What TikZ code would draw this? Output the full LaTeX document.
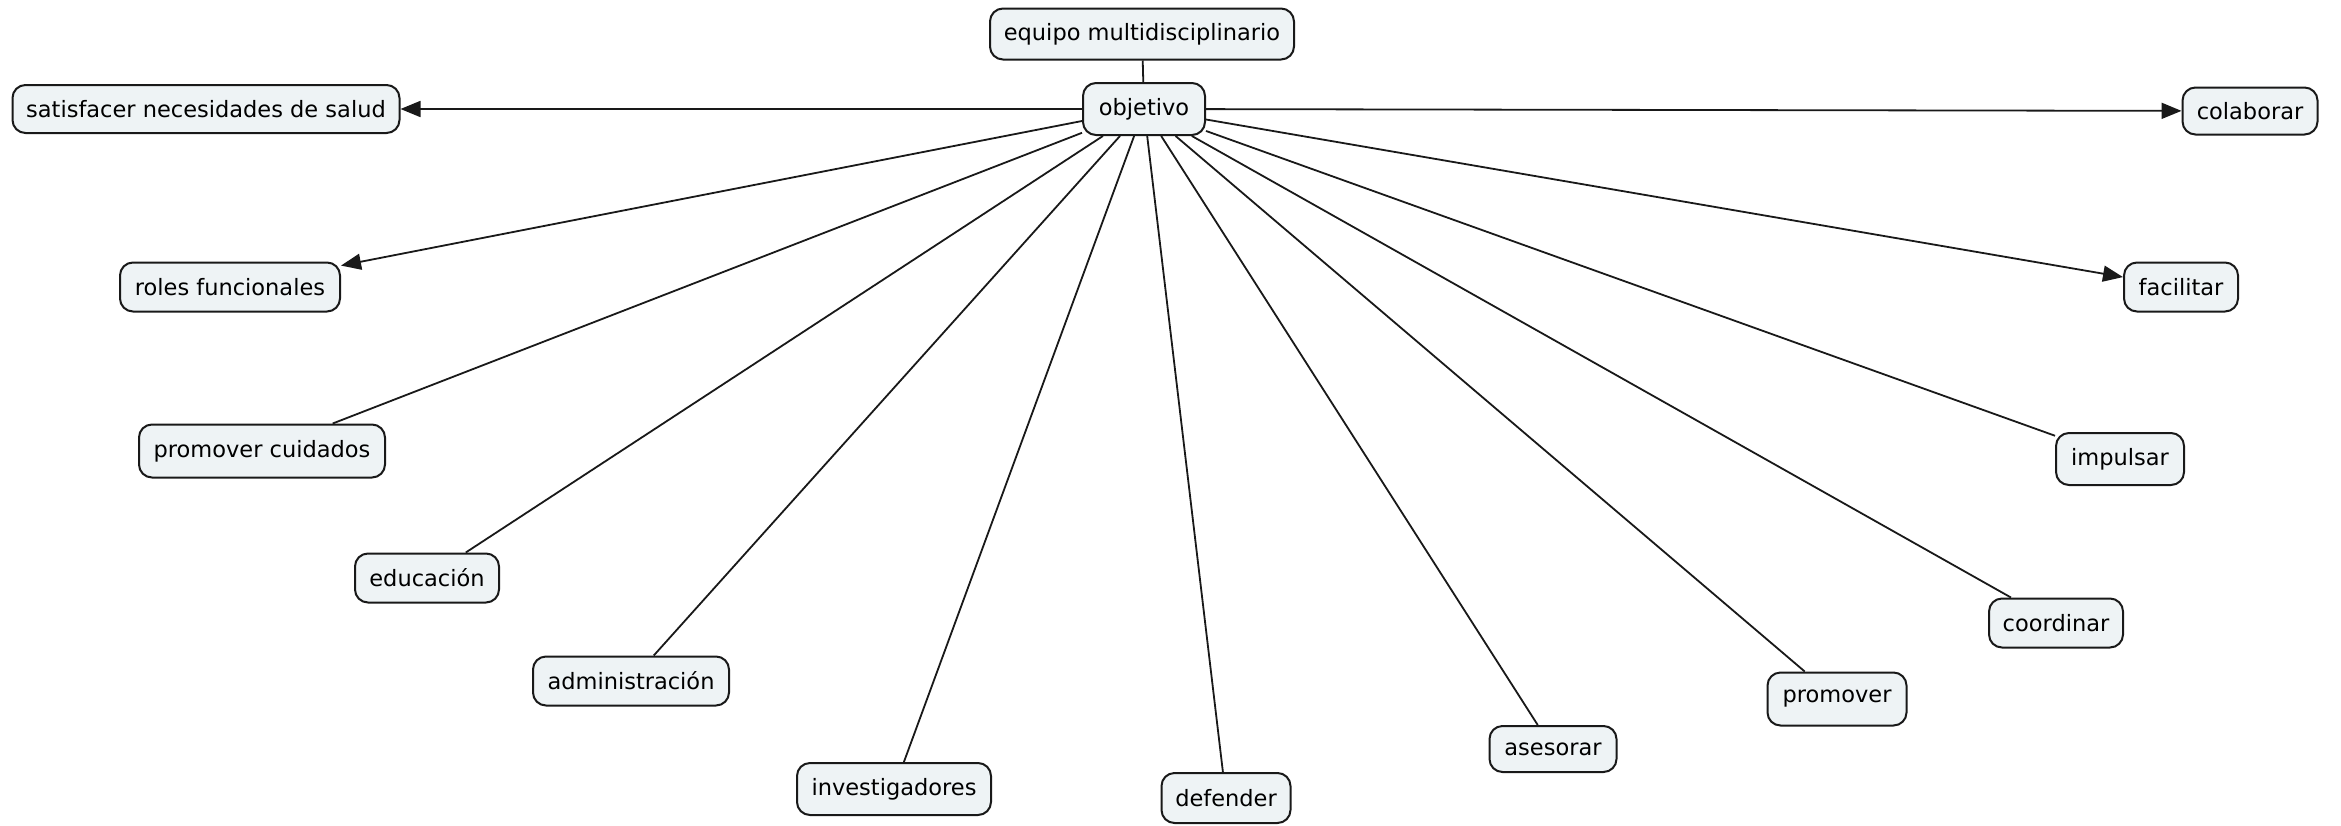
\documentclass[tikz,border=0pt]{standalone}
\usepackage{fontspec}
\setmainfont{DejaVu Sans}
\usetikzlibrary{arrows.meta}
\definecolor{boxfill}{HTML}{EEF3F5}
\begin{document}
\begin{tikzpicture}[x=1pt,y=-1pt,
  box/.style={draw=black!90, line width=2pt, fill=boxfill, rounded corners=13pt,
    minimum height=50pt, inner sep=0pt, font=\fontsize{22.5}{27}\selectfont},
  link/.style={line width=1.8pt, draw=black!90},
  arr/.style={link, -{Triangle[length=20pt,width=16pt]}}]
\useasboundingbox (0,0) rectangle (2341,825);
\fill[white] (0,0) rectangle (2341,825);
\node[box, minimum width=304pt, minimum height=51pt] (equipo) at (1142,34) {equipo multidisciplinario};
\node[box, minimum width=122pt, minimum height=52pt] (obj) at (1144,109) {objetivo};
\node[box, minimum width=387pt, minimum height=48pt] (sat) at (206,109) {satisfacer necesidades de salud};
\node[box, minimum width=135pt, minimum height=47pt] (col) at (2250,111) {colaborar};
\node[box, minimum width=220pt, minimum height=49pt] (rol) at (230,287) {roles funcionales};
\node[box, minimum width=114pt, minimum height=49pt] (fac) at (2181,287) {facilitar};
\node[box, minimum width=246pt, minimum height=53pt] (pcu) at (262,451) {promover cuidados};
\node[box, minimum width=128pt, minimum height=52pt] (imp) at (2120,459) {impulsar};
\node[box, minimum width=144pt, minimum height=49pt] (edu) at (427,578) {educación};
\node[box, minimum width=134pt, minimum height=49pt] (coo) at (2056,623) {coordinar};
\node[box, minimum width=196pt, minimum height=49pt] (adm) at (631,681) {administración};
\node[box, minimum width=139pt, minimum height=53pt] (pro) at (1837,699) {promover};
\node[box, minimum width=194pt, minimum height=52pt] (inv) at (894,789) {investigadores};
\node[box, minimum width=129pt, minimum height=50pt] (def) at (1226,798) {defender};
\node[box, minimum width=127pt, minimum height=46pt] (ase) at (1553,749) {asesorar};
\draw[link] (equipo) -- (obj);
\draw[arr] (obj) -- (sat);
\draw[arr] (obj) -- (col);
\draw[arr] (obj) -- (rol);
\draw[arr] (obj) -- (fac);
\foreach \t in {pcu,imp,edu,coo,adm,pro,inv,def,ase} \draw[link] (obj) -- (\t);
\end{tikzpicture}
\end{document}
